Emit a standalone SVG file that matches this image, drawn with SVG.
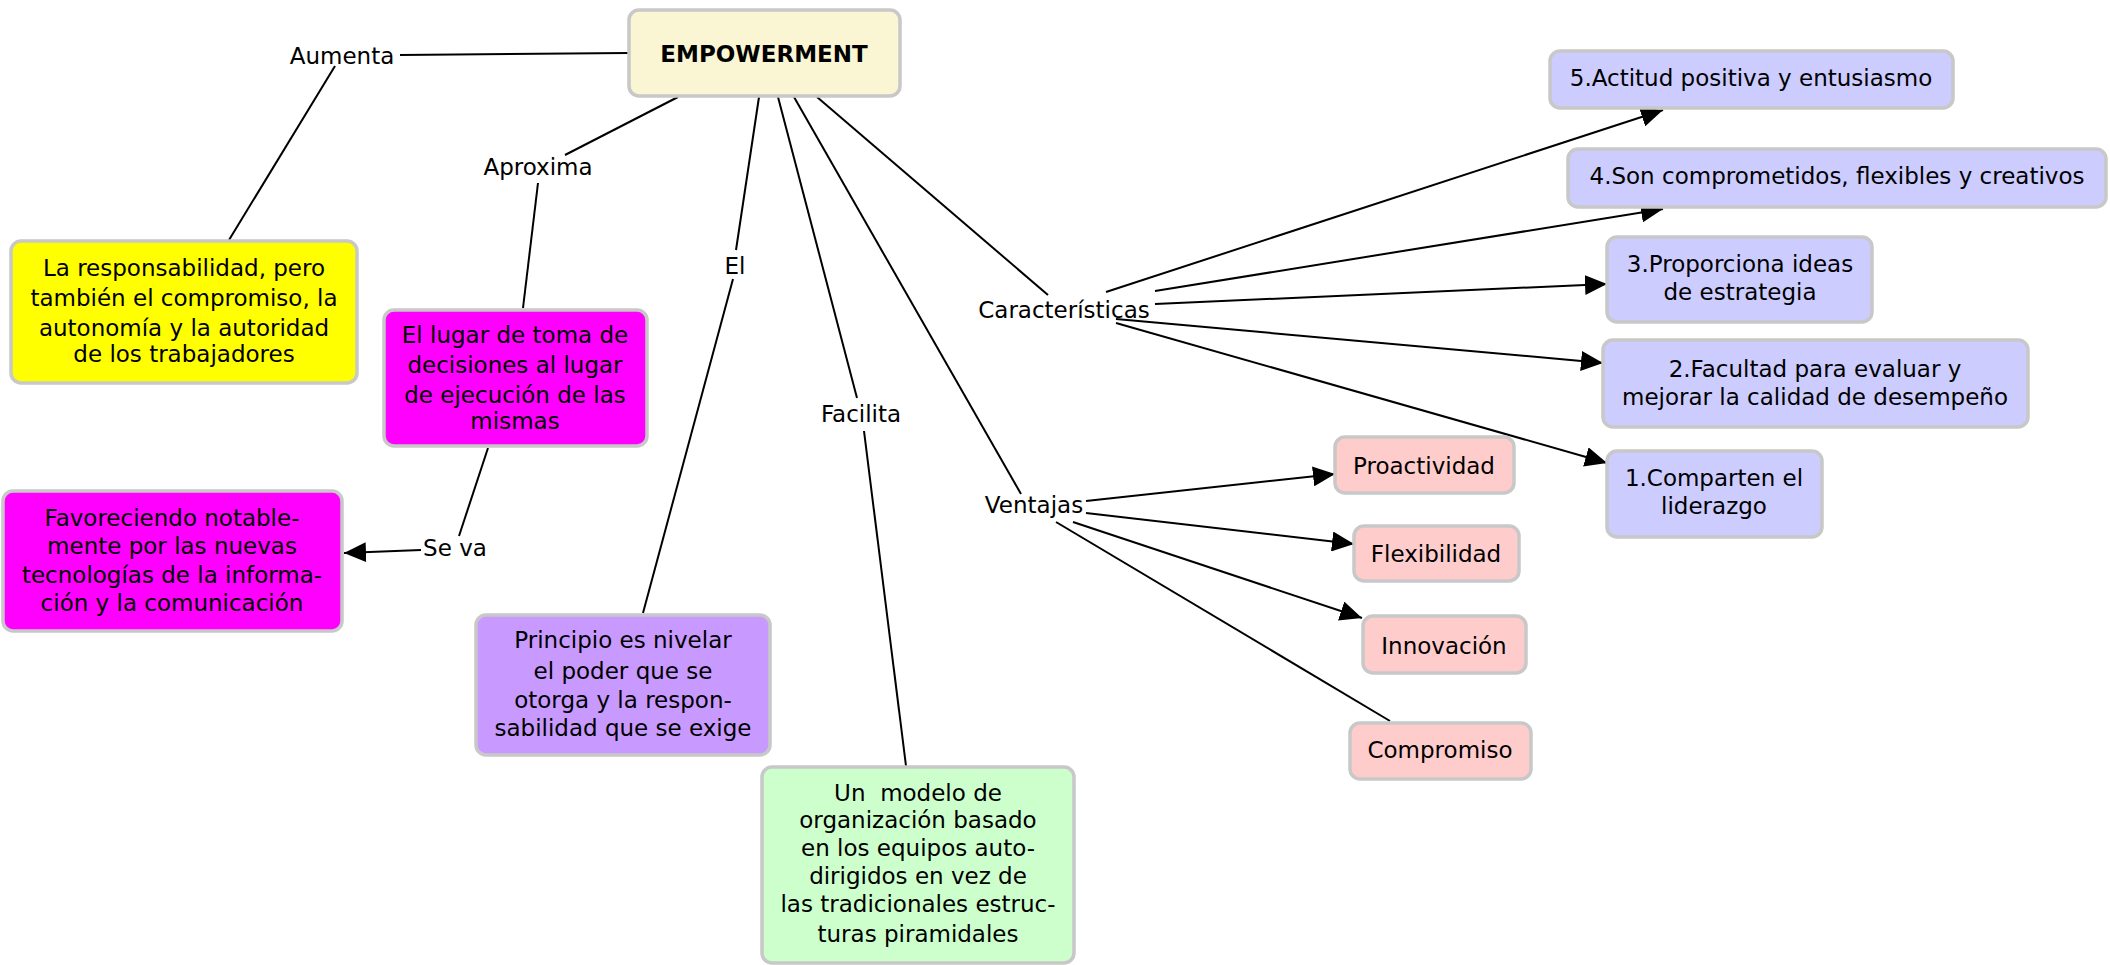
<svg xmlns="http://www.w3.org/2000/svg" width="2110" height="965" viewBox="0 0 2110 965">
<style>
text{font-family:"DejaVu Sans","Verdana",sans-serif;font-size:23px;fill:#000;text-anchor:middle}
.box{stroke:#c8c8c8;stroke-width:3.5}
.ln{stroke:#000;stroke-width:2;fill:none}
</style>
<defs>
<marker id="ah" markerUnits="userSpaceOnUse" markerWidth="24" markerHeight="20" refX="22" refY="10" orient="auto">
<path d="M0,0 L22,10 L0,20 Z" fill="#000"/>
</marker>
</defs>
<rect width="2110" height="965" fill="#fff"/>
<g id="connectors">
<line class="ln" x1="400" y1="55" x2="628" y2="53"/>
<line class="ln" x1="335" y1="66" x2="229" y2="240"/>
<line class="ln" x1="678" y1="97" x2="565" y2="155"/>
<line class="ln" x1="538" y1="183" x2="523" y2="308"/>
<line class="ln" x1="488" y1="448" x2="459" y2="536"/>
<line class="ln" x1="421" y1="550" x2="344" y2="553" marker-end="url(#ah)"/>
<line class="ln" x1="759" y1="97" x2="736" y2="250"/>
<line class="ln" x1="733" y1="279" x2="643" y2="613"/>
<line class="ln" x1="778" y1="97" x2="857" y2="398"/>
<line class="ln" x1="864" y1="431" x2="906" y2="766"/>
<line class="ln" x1="817" y1="97" x2="1048" y2="295"/>
<line class="ln" x1="794" y1="97" x2="1021" y2="494"/>
<line class="ln" x1="1106" y1="292" x2="1663" y2="110" marker-end="url(#ah)"/>
<line class="ln" x1="1155" y1="291" x2="1663" y2="209" marker-end="url(#ah)"/>
<line class="ln" x1="1155" y1="304" x2="1607" y2="284" marker-end="url(#ah)"/>
<line class="ln" x1="1116" y1="319" x2="1603" y2="363" marker-end="url(#ah)"/>
<line class="ln" x1="1116" y1="323" x2="1607" y2="463" marker-end="url(#ah)"/>
<line class="ln" x1="1086" y1="501" x2="1335" y2="474" marker-end="url(#ah)"/>
<line class="ln" x1="1086" y1="513" x2="1354" y2="544" marker-end="url(#ah)"/>
<line class="ln" x1="1073" y1="522" x2="1362" y2="618" marker-end="url(#ah)"/>
<line class="ln" x1="1056" y1="522" x2="1390" y2="721"/>
</g>
<g id="labels">
<text x="342" y="64">Aumenta</text>
<text x="538" y="175">Aproxima</text>
<text x="455" y="556">Se va</text>
<text x="735" y="274">El</text>
<text x="861" y="422">Facilita</text>
<text x="1064" y="318">Características</text>
<text x="1034" y="513">Ventajas</text>
</g>
<g id="n-empowerment">
<rect class="box" x="629" y="10" width="271" height="86" rx="10" fill="#faf6d3"/>
<text x="764" y="62" font-weight="bold" font-size="22.5">EMPOWERMENT</text>
</g>
<g id="n-responsabilidad">
<rect class="box" x="11" y="241" width="346" height="142" rx="10" fill="#ffff00"/>
<text x="184" y="276">La responsabilidad, pero</text>
<text x="184" y="306">también el compromiso, la</text>
<text x="184" y="336">autonomía y la autoridad</text>
<text x="184" y="362">de los trabajadores</text>
</g>
<g id="n-lugar">
<rect class="box" x="384" y="310" width="263" height="136" rx="10" fill="#ff00ff"/>
<text x="515" y="343">El lugar de toma de</text>
<text x="515" y="373">decisiones al lugar</text>
<text x="515" y="403">de ejecución de las</text>
<text x="515" y="429">mismas</text>
</g>
<g id="n-favoreciendo">
<rect class="box" x="3" y="491" width="339" height="140" rx="10" fill="#ff00ff"/>
<text x="172" y="526">Favoreciendo notable-</text>
<text x="172" y="554">mente por las nuevas</text>
<text x="172" y="583">tecnologías de la informa-</text>
<text x="172" y="611">ción y la comunicación</text>
</g>
<g id="n-principio">
<rect class="box" x="476" y="615" width="294" height="140" rx="10" fill="#c899ff"/>
<text x="623" y="648">Principio es nivelar</text>
<text x="623" y="679">el poder que se</text>
<text x="623" y="708">otorga y la respon-</text>
<text x="623" y="736">sabilidad que se exige</text>
</g>
<g id="n-modelo">
<rect class="box" x="762" y="767" width="312" height="196" rx="10" fill="#ccffcc"/>
<text x="918" y="801" xml:space="preserve">Un  modelo de</text>
<text x="918" y="828">organización basado</text>
<text x="918" y="856">en los equipos auto-</text>
<text x="918" y="884">dirigidos en vez de</text>
<text x="918" y="912">las tradicionales estruc-</text>
<text x="918" y="942">turas piramidales</text>
</g>
<g id="n-c5">
<rect class="box" x="1550" y="51" width="403" height="57" rx="10" fill="#ccccff"/>
<text x="1751" y="86">5.Actitud positiva y entusiasmo</text>
</g>
<g id="n-c4">
<rect class="box" x="1568" y="149" width="538" height="58" rx="10" fill="#ccccff"/>
<text x="1837" y="184">4.Son comprometidos, flexibles y creativos</text>
</g>
<g id="n-c3">
<rect class="box" x="1607" y="237" width="265" height="85" rx="10" fill="#ccccff"/>
<text x="1740" y="272">3.Proporciona ideas</text>
<text x="1740" y="300">de estrategia</text>
</g>
<g id="n-c2">
<rect class="box" x="1603" y="340" width="425" height="87" rx="10" fill="#ccccff"/>
<text x="1815" y="377">2.Facultad para evaluar y</text>
<text x="1815" y="405">mejorar la calidad de desempeño</text>
</g>
<g id="n-c1">
<rect class="box" x="1607" y="451" width="215" height="86" rx="10" fill="#ccccff"/>
<text x="1714" y="486">1.Comparten el</text>
<text x="1714" y="514">liderazgo</text>
</g>
<g id="n-proactividad">
<rect class="box" x="1335" y="437" width="179" height="56" rx="10" fill="#ffcccc"/>
<text x="1424" y="474">Proactividad</text>
</g>
<g id="n-flexibilidad">
<rect class="box" x="1354" y="526" width="165" height="55" rx="10" fill="#ffcccc"/>
<text x="1436" y="562">Flexibilidad</text>
</g>
<g id="n-innovacion">
<rect class="box" x="1363" y="616" width="163" height="57" rx="10" fill="#ffcccc"/>
<text x="1444" y="654">Innovación</text>
</g>
<g id="n-compromiso">
<rect class="box" x="1350" y="723" width="181" height="56" rx="10" fill="#ffcccc"/>
<text x="1440" y="758">Compromiso</text>
</g>
</svg>
